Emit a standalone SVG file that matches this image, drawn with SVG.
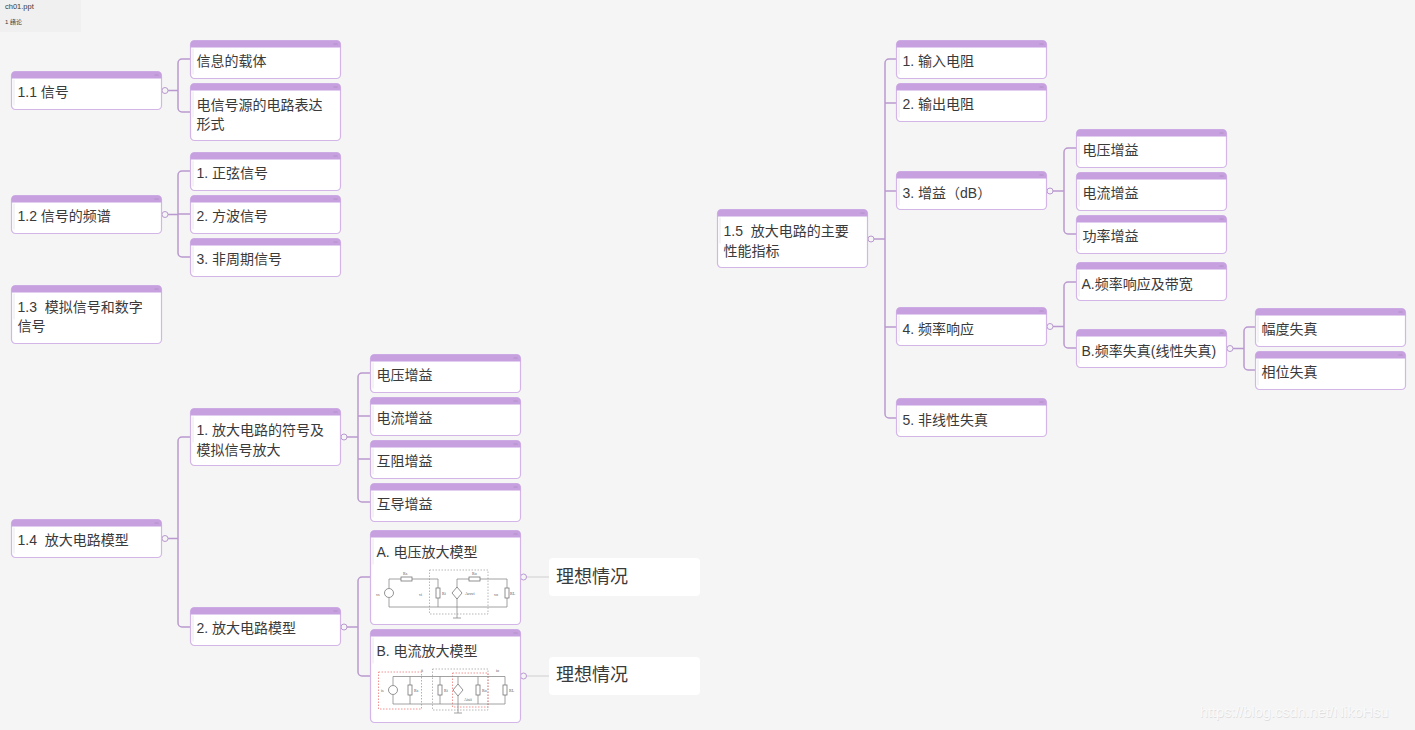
<svg xmlns="http://www.w3.org/2000/svg" width="1415" height="730" viewBox="0 0 1415 730">
<style>
text{font-family:"Liberation Sans","Noto Sans CJK SC",sans-serif;fill:#3a3a3a;white-space:pre}
.t{font-size:14px}
.big{font-size:18px}
.b{fill:#fff;stroke:#d3b5e8;stroke-width:1.2}
.h{fill:#c6a0df}
.d{fill:none;stroke:#a98cbc;stroke-width:1;opacity:.7}
.e{fill:none;stroke:#e9e9e9;stroke-width:1}
.c{fill:none;stroke:#b999cf;stroke-width:1.5}
.g{fill:none;stroke:#dcdcdc;stroke-width:1.5}
.o{fill:#f5f5f5;stroke:#b999cf;stroke-width:1}
.w{fill:none;stroke:#8a8a8a;stroke-width:.8}
.r{fill:#fff;stroke:#777;stroke-width:.8}
.da{fill:none;stroke:#999;stroke-width:.7;stroke-dasharray:1.5 1.5}
.re{fill:none;stroke:#f07a7a;stroke-width:.8;stroke-dasharray:1.5 1.5}
.s{font-size:4px;fill:#555;font-family:"Liberation Serif",serif}
</style>
<defs>
<path id="hd" class="h" d="M0 7V4a4 4 0 0 1 4-4h142a4 4 0 0 1 4 4v3z"/>
<g id="mk"><path class="d" d="M143 3.500h4"/><path class="e" d="M2.500 8v26"/></g>
</defs>
<rect width="1415" height="730" fill="#f5f5f5"/>
<g id="tab"><rect width="81" height="32" fill="#f0f0f0"/><text x="5" y="9" font-size="7.500">ch01.ppt</text><text x="5" y="24" font-size="6">1 绪论</text></g>
<g id="connectors">
<path class="c" d="M161 90.500H178M194 59H182a4 4 0 0 0-4 4V108a4 4 0 0 0 4 4H190"/>
<path class="c" d="M161 214.500H178M190 171H182a4 4 0 0 0-4 4V253a4 4 0 0 0 4 4H190M178 214H190"/>
<path class="c" d="M161 538.500H178M190 437H182a4 4 0 0 0-4 4V623a4 4 0 0 0 4 4H190"/>
<path class="c" d="M340 437H358M370 373H362a4 4 0 0 0-4 4V498a4 4 0 0 0 4 4H370M358 416H370M358 459H370"/>
<path class="c" d="M340 627H358M370 577H362a4 4 0 0 0-4 4V672a4 4 0 0 0 4 4H370"/>
<path class="g" d="M520 577H549M520 676H549"/>
<path class="c" d="M867 239H885M896 59H889a4 4 0 0 0-4 4V414a4 4 0 0 0 4 4H896M885 103H896M885 191H896M885 327H896"/>
<path class="c" d="M1046 191H1064M1076 148H1068a4 4 0 0 0-4 4V230a4 4 0 0 0 4 4H1076"/>
<path class="c" d="M1046 326.500H1064M1076 282H1068a4 4 0 0 0-4 4V344a4 4 0 0 0 4 4H1076"/>
<path class="c" d="M1226 348.500H1244M1255 327H1248a4 4 0 0 0-4 4V366a4 4 0 0 0 4 4H1255"/>
<circle class="o" cx="165" cy="90.500" r="3"/><circle class="o" cx="165" cy="214.500" r="3"/><circle class="o" cx="165" cy="538.500" r="3"/>
<circle class="o" cx="344" cy="437" r="3"/><circle class="o" cx="344" cy="627" r="3"/>
<circle class="o" cx="523.500" cy="577" r="3"/><circle class="o" cx="523.500" cy="676" r="3"/>
<circle class="o" cx="871" cy="239" r="3"/><circle class="o" cx="1050" cy="191" r="3"/><circle class="o" cx="1050" cy="326.500" r="3"/><circle class="o" cx="1230" cy="348.500" r="3"/>
</g>
<g id="n1-1" transform="translate(11.500,71.500)"><rect class="b" width="150" height="38" rx="4"/><use href="#hd"/><use href="#mk"/><text class="t" x="6" y="25.500">1.1 信号</text></g>
<g id="n1-1-1" transform="translate(190.500,40.500)"><rect class="b" width="150" height="38" rx="4"/><use href="#hd"/><use href="#mk"/><text class="t" x="6" y="25.500">信息的载体</text></g>
<g id="n1-1-2" transform="translate(190.500,83.500)"><rect class="b" width="150" height="57" rx="4"/><use href="#hd"/><use href="#mk"/><text class="t" x="6" y="26">电信号源的电路表达</text><text class="t" x="6" y="45.500">形式</text></g>
<g id="n1-2" transform="translate(11.500,195.500)"><rect class="b" width="150" height="38" rx="4"/><use href="#hd"/><use href="#mk"/><text class="t" x="6" y="25.500">1.2 信号的频谱</text></g>
<g id="n1-2-1" transform="translate(190.500,152.500)"><rect class="b" width="150" height="38" rx="4"/><use href="#hd"/><use href="#mk"/><text class="t" x="6" y="25.500">1. 正弦信号</text></g>
<g id="n1-2-2" transform="translate(190.500,195.500)"><rect class="b" width="150" height="38" rx="4"/><use href="#hd"/><use href="#mk"/><text class="t" x="6" y="25.500">2. 方波信号</text></g>
<g id="n1-2-3" transform="translate(190.500,238.500)"><rect class="b" width="150" height="38" rx="4"/><use href="#hd"/><use href="#mk"/><text class="t" x="6" y="25.500">3. 非周期信号</text></g>
<g id="n1-3" transform="translate(11.500,285.500)"><rect class="b" width="150" height="58" rx="4"/><use href="#hd"/><use href="#mk"/><text class="t" x="6" y="26">1.3  模拟信号和数字</text><text class="t" x="6" y="45.500">信号</text></g>
<g id="n1-4" transform="translate(11.500,519.500)"><rect class="b" width="150" height="38" rx="4"/><use href="#hd"/><use href="#mk"/><text class="t" x="6" y="25.500">1.4  放大电路模型</text></g>
<g id="n1-4-1" transform="translate(190.500,408.500)"><rect class="b" width="150" height="57" rx="4"/><use href="#hd"/><use href="#mk"/><text class="t" x="6" y="26">1. 放大电路的符号及</text><text class="t" x="6" y="46">模拟信号放大</text></g>
<g id="n1-4-2" transform="translate(190.500,607.500)"><rect class="b" width="150" height="38" rx="4"/><use href="#hd"/><use href="#mk"/><text class="t" x="6" y="25.500">2. 放大电路模型</text></g>
<g id="n-g1" transform="translate(370.500,354.500)"><rect class="b" width="150" height="38" rx="4"/><use href="#hd"/><use href="#mk"/><text class="t" x="6" y="25.500">电压增益</text></g>
<g id="n-g2" transform="translate(370.500,397.500)"><rect class="b" width="150" height="38" rx="4"/><use href="#hd"/><use href="#mk"/><text class="t" x="6" y="25.500">电流增益</text></g>
<g id="n-g3" transform="translate(370.500,440.500)"><rect class="b" width="150" height="38" rx="4"/><use href="#hd"/><use href="#mk"/><text class="t" x="6" y="25.500">互阻增益</text></g>
<g id="n-g4" transform="translate(370.500,483.500)"><rect class="b" width="150" height="38" rx="4"/><use href="#hd"/><use href="#mk"/><text class="t" x="6" y="25.500">互导增益</text></g>
<g id="n-a" transform="translate(370.500,530.500)"><rect class="b" width="150" height="94" rx="4"/><use href="#hd"/><use href="#mk"/><text class="t" x="6" y="26">A. 电压放大模型</text></g>
<g id="circuit-a">
<rect class="da" x="429.500" y="570" width="58.500" height="44"/>
<path class="w" d="M389 588V579H438V607M389 598V607H507V598M507 588V579H457V588M457 598V618M453 618H461"/>
<circle class="r" cx="389" cy="593" r="4.500"/><path class="r" d="M457 587L462 593L457 599L452 593Z"/>
<rect class="r" x="401" y="577" width="11" height="4"/><rect class="r" x="469" y="577" width="11" height="4"/>
<rect class="r" x="436" y="588" width="4" height="10"/><rect class="r" x="505" y="588" width="4" height="10"/>
<text class="s" x="376" y="596">vs</text><text class="s" x="403" y="575">Rs</text><text class="s" x="419" y="596">vi</text><text class="s" x="442" y="595">Ri</text><text class="s" x="465" y="595">Avovi</text><text class="s" x="472" y="575">Ro</text><text class="s" x="494" y="596">vo</text><text class="s" x="510" y="595">RL</text>
</g>
<g id="n-b" transform="translate(370.500,629.500)"><rect class="b" width="150" height="93" rx="4"/><use href="#hd"/><use href="#mk"/><text class="t" x="6" y="26">B. 电流放大模型</text></g>
<g id="circuit-b">
<rect class="da" x="432.500" y="669" width="55.500" height="41"/>
<rect class="re" x="378.500" y="672" width="43" height="37"/>
<rect class="re" x="452.500" y="673" width="35.500" height="34"/>
<path class="w" d="M393 685V676.500H505V685M393 695V704H505V695M410 676.500V685M410 695V704M440 676.500V685M440 695V704M458 676.500V684M458 696V713M454 713H462M478 676.500V685M478 695V704"/>
<circle class="r" cx="393" cy="690" r="4.500"/><path class="r" d="M458 684L463 690L458 696L453 690Z"/>
<rect class="r" x="408" y="685" width="4" height="10"/><rect class="r" x="438" y="685" width="4" height="10"/><rect class="r" x="476" y="685" width="4" height="10"/><rect class="r" x="503" y="685" width="4" height="10"/>
<text class="s" x="381" y="692">is</text><text class="s" x="414" y="692">Rs</text><text class="s" x="444" y="692">Ri</text><text class="s" x="464" y="701">Aisii</text><text class="s" x="482" y="692">Ro</text><text class="s" x="509" y="692">RL</text><text class="s" x="421" y="672">ii</text><text class="s" x="496" y="672">io</text>
</g>
<g id="n-ideal-a"><rect x="549" y="558" width="151" height="38" rx="4" fill="#fff"/><text class="big" x="556" y="583">理想情况</text></g>
<g id="n-ideal-b"><rect x="549" y="657" width="151" height="38" rx="4" fill="#fff"/><text class="big" x="556" y="681">理想情况</text></g>
<g id="n1-5" transform="translate(717.500,209.500)"><rect class="b" width="150" height="58" rx="4"/><use href="#hd"/><use href="#mk"/><text class="t" x="6" y="26">1.5  放大电路的主要</text><text class="t" x="6" y="46">性能指标</text></g>
<g id="n5-1" transform="translate(896.500,40.500)"><rect class="b" width="150" height="38" rx="4"/><use href="#hd"/><use href="#mk"/><text class="t" x="6" y="25.500">1. 输入电阻</text></g>
<g id="n5-2" transform="translate(896.500,83.500)"><rect class="b" width="150" height="38" rx="4"/><use href="#hd"/><use href="#mk"/><text class="t" x="6" y="25.500">2. 输出电阻</text></g>
<g id="n5-3" transform="translate(896.500,171.500)"><rect class="b" width="150" height="38" rx="4"/><use href="#hd"/><use href="#mk"/><text class="t" x="6" y="26">3. 增益（dB）</text></g>
<g id="n5-4" transform="translate(896.500,307.500)"><rect class="b" width="150" height="38" rx="4"/><use href="#hd"/><use href="#mk"/><text class="t" x="6" y="26">4. 频率响应</text></g>
<g id="n5-5" transform="translate(896.500,398.500)"><rect class="b" width="150" height="38" rx="4"/><use href="#hd"/><use href="#mk"/><text class="t" x="6" y="26">5. 非线性失真</text></g>
<g id="n5-3-1" transform="translate(1076.500,129.500)"><rect class="b" width="150" height="38" rx="4"/><use href="#hd"/><use href="#mk"/><text class="t" x="6" y="25.500">电压增益</text></g>
<g id="n5-3-2" transform="translate(1076.500,172.500)"><rect class="b" width="150" height="38" rx="4"/><use href="#hd"/><use href="#mk"/><text class="t" x="6" y="25.500">电流增益</text></g>
<g id="n5-3-3" transform="translate(1076.500,215.500)"><rect class="b" width="150" height="38" rx="4"/><use href="#hd"/><use href="#mk"/><text class="t" x="6" y="25.500">功率增益</text></g>
<g id="n5-4-a" transform="translate(1076.500,262.500)"><rect class="b" width="150" height="38" rx="4"/><use href="#hd"/><use href="#mk"/><text class="t" x="5" y="26">A.频率响应及带宽</text></g>
<g id="n5-4-b" transform="translate(1076.500,329.500)"><rect class="b" width="150" height="38" rx="4"/><use href="#hd"/><use href="#mk"/><text class="t" x="5" y="26">B.频率失真(线性失真)</text></g>
<g id="n5-b-1" transform="translate(1255.500,308.500)"><rect class="b" width="150" height="38" rx="4"/><use href="#hd"/><use href="#mk"/><text class="t" x="6" y="25.500">幅度失真</text></g>
<g id="n5-b-2" transform="translate(1255.500,351.500)"><rect class="b" width="150" height="38" rx="4"/><use href="#hd"/><use href="#mk"/><text class="t" x="6" y="25.500">相位失真</text></g>
<g id="watermark"><text x="1200.500" y="717.500" font-size="14.500" style="fill:#dedede">https://blog.csdn.net/NikoHsu</text><text x="1200" y="717" font-size="14.500" style="fill:#fafafa">https://blog.csdn.net/NikoHsu</text></g>
</svg>
